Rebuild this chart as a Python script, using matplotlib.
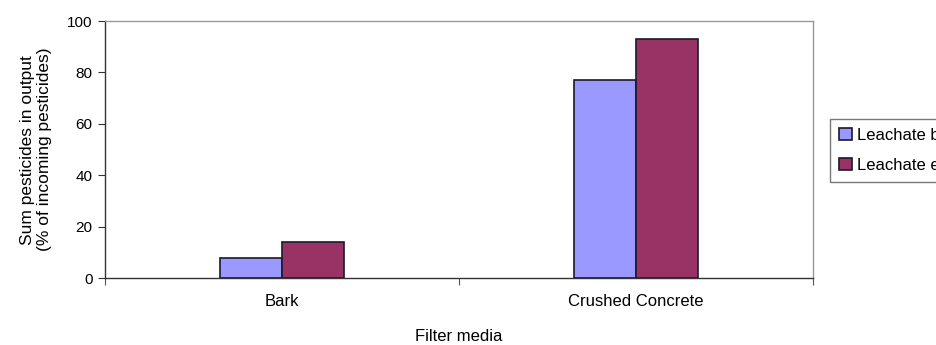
import matplotlib
matplotlib.use("Agg")
import matplotlib.pyplot as plt
import numpy as np

plt.rcParams['font.family'] = ['Liberation Sans', 'DejaVu Sans']

media = ["Bark", "Crushed Concrete"]
series = ["Leachate beginning", "Leachate end"]
leach_begin = [8, 77]
leach_end = [14, 93]
colors = ["#9999FF", "#993366"]

fig = plt.figure(figsize=(9.36, 3.45), dpi=100)
ax = fig.add_axes([0.1122, 0.1933, 0.7564, 0.7457])

x = np.arange(len(media))
w = 0.174
ax.bar(x - w / 2, leach_begin, w, color=colors[0], edgecolor="#1a1a2a", linewidth=1.2, label=series[0])
ax.bar(x + w / 2, leach_end, w, color=colors[1], edgecolor="#1a1a2a", linewidth=1.2, label=series[1])

ax.set_xlim(-0.5, 1.5)
ax.set_ylim(0, 100)
ax.set_yticks([0, 20, 40, 60, 80, 100])
ax.set_xticks([-0.5, 0.5, 1.5])
ax.set_xticklabels([])
ax.set_xticks(x, minor=True)
ax.set_xticklabels(media, minor=True)
ax.tick_params(axis='x', which='minor', length=0, pad=11, labelsize=12)
ax.tick_params(axis='x', which='major', length=5, color="#555555", direction='out')
ax.tick_params(axis='y', length=5, color="#333333", labelsize=11, pad=4)

for s in ["top", "right"]:
    ax.spines[s].set_color("#999999")
    ax.spines[s].set_linewidth(1.0)
for s in ["left", "bottom"]:
    ax.spines[s].set_color("#333333")
    ax.spines[s].set_linewidth(1.0)

ax.set_ylabel("Sum pesticides in output\n(% of incoming pesticides)", fontsize=12.5,
              labelpad=11, linespacing=1.15)
ax.set_xlabel("Filter media", fontsize=12, labelpad=15)

leg = fig.legend(loc="upper left", bbox_to_anchor=(0.8868, 0.655), fontsize=12,
                 frameon=True, fancybox=False, edgecolor="#555555",
                 handlelength=0.75, handleheight=0.75, handletextpad=0.3,
                 borderpad=0.55, labelspacing=0.9, borderaxespad=0)
leg.get_frame().set_linewidth(1.0)

fig.savefig("out.png", dpi=100)
